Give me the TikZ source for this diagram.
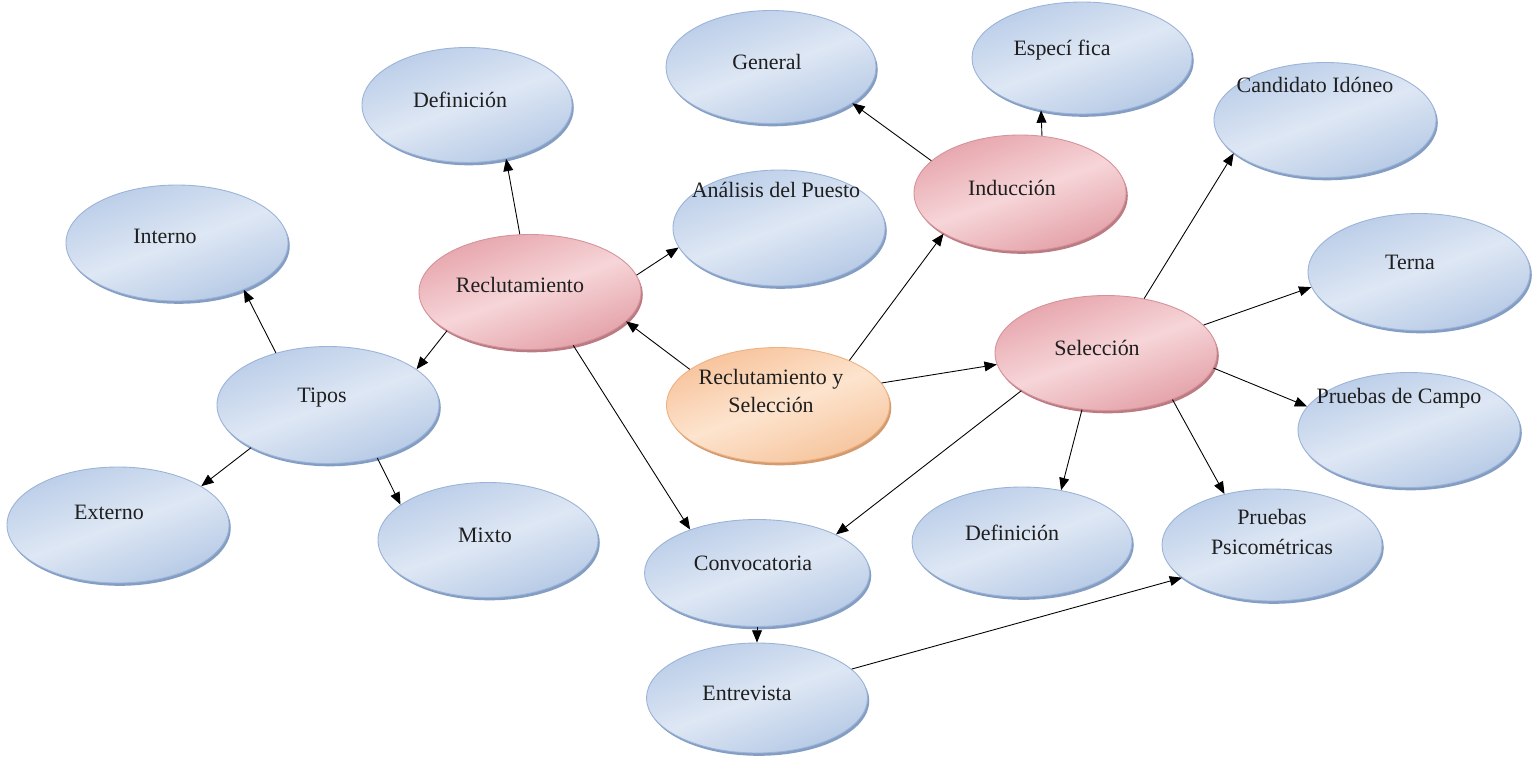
\documentclass[tikz,border=0pt]{standalone}
\usepackage{fontspec}
\setmainfont{Liberation Serif}
\usetikzlibrary{shapes.geometric,arrows.meta,shadows}
\definecolor{blueTop}{HTML}{BACDE8}
\definecolor{blueMid}{HTML}{DEE7F4}
\definecolor{blueBot}{HTML}{B5C9E5}
\definecolor{blueEdge}{HTML}{9BB3D8}
\definecolor{blueSh}{HTML}{849DC2}
\definecolor{pinkTop}{HTML}{E6A5AC}
\definecolor{pinkMid}{HTML}{F6D5D8}
\definecolor{pinkBot}{HTML}{E3A0A7}
\definecolor{pinkEdge}{HTML}{D6929A}
\definecolor{pinkSh}{HTML}{BA7B83}
\definecolor{orgTop}{HTML}{F7C29A}
\definecolor{orgMid}{HTML}{FDE4CE}
\definecolor{orgBot}{HTML}{F6C49C}
\definecolor{orgEdge}{HTML}{EDB283}
\definecolor{orgSh}{HTML}{D39B6F}
\begin{document}
\begin{tikzpicture}[x=0.02cm,y=-0.02cm,
  bub/.style={ellipse, inner sep=0pt, line width=0.5pt},
  sz/.style 2 args={minimum width=#1*0.02cm, minimum height=#2*0.02cm},
  bluebub/.style={bub, draw=blueEdge, top color=blueTop, bottom color=blueBot, middle color=blueMid, shading angle=20,
    drop shadow={shadow xshift=1pt, shadow yshift=-1.6pt, opacity=1, fill=blueSh}},
  pinkbub/.style={bub, draw=pinkEdge, top color=pinkTop, bottom color=pinkBot, middle color=pinkMid, shading angle=20,
    drop shadow={shadow xshift=1pt, shadow yshift=-1.6pt, opacity=1, fill=pinkSh}},
  orgbub/.style={bub, draw=orgEdge, top color=orgTop, bottom color=orgBot, middle color=orgMid, shading angle=20,
    drop shadow={shadow xshift=1pt, shadow yshift=-1.6pt, opacity=1, fill=orgSh}},
  lbl/.style={font=\fontsize{12.5}{16}\selectfont, text=black!88, align=center, inner sep=0pt},
  arr/.style={-{Triangle[length=7pt,width=5.6pt]}, line width=0.5pt, black}]
\useasboundingbox (0,0) rectangle (1533,763);
\fill[white] (0,0) rectangle (1533,763);

% ellipses
\node[bluebub, sz={210}{115}] (def1) at (467,105) {};
\node[bluebub, sz={210}{113}] (gen) at (771,67) {};
\node[bluebub, sz={220}{112}] (esp) at (1082,58) {};
\node[bluebub, sz={222}{115}] (cand) at (1325,120) {};
\node[bluebub, sz={212}{116}] (ana) at (779,228) {};
\node[pinkbub, sz={212}{116}] (ind) at (1020,193) {};
\node[pinkbub, sz={222}{115}] (rec) at (530,292) {};
\node[bluebub, sz={222}{117}] (terna) at (1419,272) {};
\node[bluebub, sz={222}{116}] (int) at (177,243) {};
\node[bluebub, sz={222}{117}] (tipos) at (328,405) {};
\node[orgbub, sz={223}{115}] (rys) at (778,405) {};
\node[pinkbub, sz={222}{115}] (sel) at (1106,353) {};
\node[bluebub, sz={222}{115}] (campo) at (1409,430) {};
\node[bluebub, sz={220}{110}] (def2) at (1022,542) {};
\node[bluebub, sz={220}{112}] (psi) at (1272,545) {};
\node[bluebub, sz={222}{116}] (ext) at (118,525) {};
\node[bluebub, sz={220}{115}] (mixto) at (488,540) {};
\node[bluebub, sz={225}{107}] (conv) at (757,573) {};
\node[bluebub, sz={221}{110}] (entr) at (757,698) {};

% texts
\node[lbl] (tdef1) at (460,100) {Definición};
\node[lbl] (tgen) at (767,62) {General};
\node[lbl] (tesp) at (1062,50) {Especí fica};
\node[lbl] (tcand) at (1315,85) {Candidato Idóneo};
\node[lbl] (tana) at (776,190) {Análisis del Puesto};
\node[lbl] (tind) at (1012,188) {Inducción};
\node[lbl] (trec) at (520,285) {Reclutamiento};
\node[lbl] (tterna) at (1410,262) {Terna};
\node[lbl] (tint) at (165,236) {Interno};
\node[lbl] (ttipos) at (322,398) {Tipos};
\node[lbl] (trys) at (771,391) {Reclutamiento y\\Selección};
\node[lbl] (tsel) at (1097,348) {Selección};
\node[lbl] (tcampo) at (1399,398) {Pruebas de Campo};
\node[lbl, font=\fontsize{12.5}{17}\selectfont] (tpsi) at (1272,532) {Pruebas\\Psicométricas};
\node[lbl] (tdef2) at (1012,533) {Definición};
\node[lbl] (text) at (109,512) {Externo};
\node[lbl] (tmixto) at (485,535) {Mixto};
\node[lbl] (tconv) at (753,563) {Convocatoria};
\node[lbl] (tentr) at (747,693) {Entrevista};

% connectors
\draw[arr] (rec.100) -- (def1.306);
\draw[arr] (rec.9) -- (ana.191);
\draw[arr] (rec.205) -- (tipos.22);
\draw[arr] (rec.309) -- (conv.147);
\draw[arr] (rys.158) -- (rec.343);
\draw[arr] (rys.32) -- (ind.208);
\draw[arr] (rys.12) -- (sel.186);
\draw[arr] (ind.160) -- (gen.336);
\draw[arr] (ind.69) -- (esp.232);
\draw[arr] (sel.55) -- (cand.200);
\draw[arr] (sel.16) -- (terna.188);
\draw[arr] (sel.352) -- (campo.167);
\draw[arr] (sel.247) -- (def2.53);
\draw[arr] (sel.325) -- (psi.133);
\draw[arr] (sel.204) -- (conv.26);
\draw[arr] (tipos.135) -- (int.325);
\draw[arr] (tipos.209) -- (ext.25);
\draw[arr] (tipos.313) -- (mixto.158);
\draw[arr] (conv.south) -- (entr.north);
\draw[arr] (entr.17) -- (psi.200);
\end{tikzpicture}
\end{document}
